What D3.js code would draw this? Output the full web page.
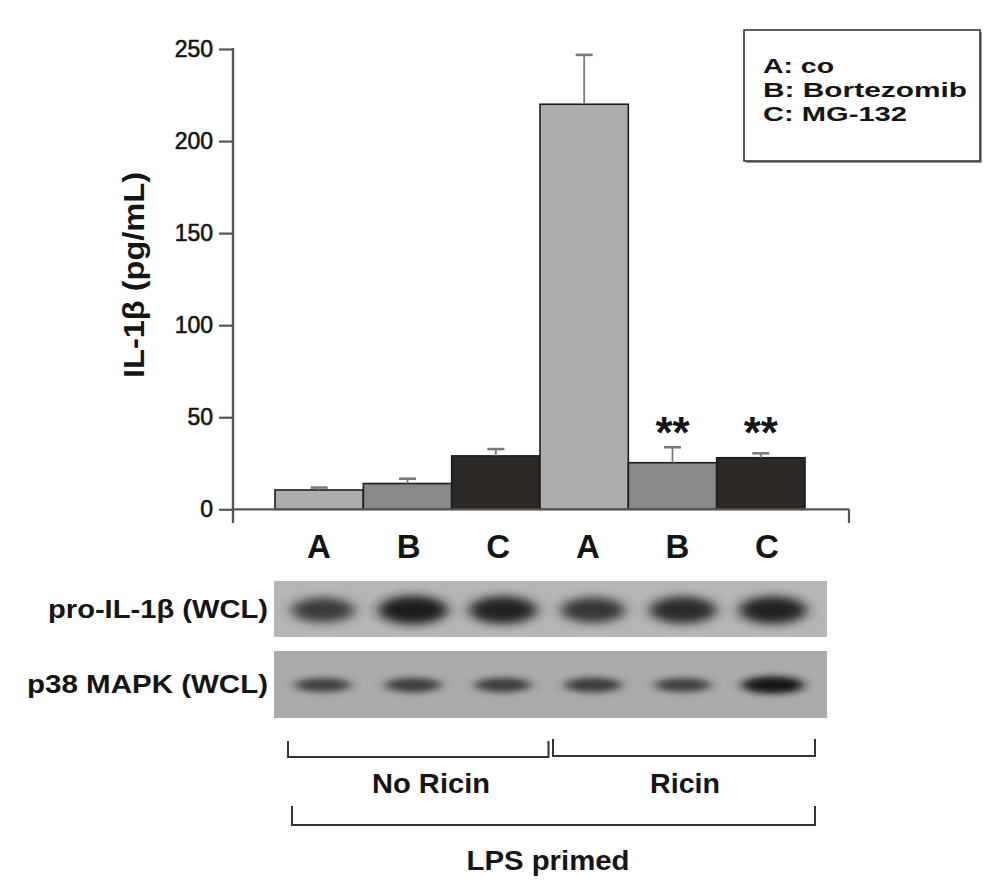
<!DOCTYPE html>
<html><head><meta charset="utf-8">
<script src="https://cdn.jsdelivr.net/npm/d3@7"></script>
<style>
body{margin:0;background:#fff}
svg{display:block}
text{font-family:"Liberation Sans",Arial,Helvetica,sans-serif;fill:#151515}
</style>
</head><body>
<svg id="chart" width="1000" height="888"></svg>
<script>
// ---------------- data ----------------
const categories   = ["A","B","C","A","B","C"];
const treatments   = ["co","Bortezomib","MG-132","co","Bortezomib","MG-132"];
const groupLabels  = ["No Ricin","Ricin"];
const meanValues   = [10.5, 14.0, 29.0, 220.0, 25.3, 28.0];
const errorValues  = [1.3, 2.6, 3.7, 26.8, 8.4, 2.4];
const significance = ["", "", "", "", "**", "**"];
const yTicks       = [0, 50, 100, 150, 200, 250];
const legendLabels = ["A: co", "B: Bortezomib", "C: MG-132"];
const blotLabels   = ["pro-IL-1\u03b2 (WCL)", "p38 MAPK (WCL)"];
const proIL1bBands = [0.74, 0.93, 0.88, 0.76, 0.84, 0.88];   // relative band intensity
const p38Bands     = [0.68, 0.7, 0.7, 0.72, 0.68, 0.95];

// ---------------- setup ----------------
const svg = d3.select("#chart");
const idx = d3.range(categories.length);
const fillByTreatment = d3.scaleOrdinal()
  .domain(["co","Bortezomib","MG-132"])
  .range(["#adadad","#898989","#2b2826"]);

const y = d3.scaleLinear().domain([0, 250]).range([509.3, 49]);
const x = d3.scaleBand().domain(idx).range([275, 805]).padding(0);
const xl = d3.scalePoint().domain(idx).range([319, 767]);
const lane = d3.scaleBand().domain(idx).range([278, 818]);

const axisX = 233;

// ---------------- y axis ----------------
const yAxis = d3.axisLeft(y).tickValues(yTicks).tickSize(14).tickPadding(6);
const gy = svg.append("g").attr("transform", `translate(${axisX},0)`).call(yAxis);
gy.select(".domain").remove();
gy.selectAll(".tick line").attr("stroke", "#555").attr("stroke-width", 2.2);
gy.selectAll(".tick text").attr("font-size", 23).attr("fill", "#151515")
  .attr("stroke", "#151515").attr("stroke-width", 0.6)
  .style("font-family", '"Liberation Sans",Arial,sans-serif');
svg.append("line").attr("x1", axisX).attr("x2", axisX)
  .attr("y1", y(250) - 1).attr("y2", 523)
  .attr("stroke", "#555").attr("stroke-width", 2.4);

// y label
svg.append("text")
  .attr("transform", `translate(144,${(172 + 378) / 2}) rotate(-90)`)
  .attr("text-anchor", "middle")
  .attr("font-size", 29).attr("font-weight", "bold")
  .attr("textLength", 206).attr("lengthAdjust", "spacingAndGlyphs")
  .text("IL-1\u03b2 (pg/mL)");

// ---------------- bars ----------------
svg.append("g").selectAll("rect").data(idx).join("rect")
  .attr("x", i => x(i)).attr("width", x.bandwidth())
  .attr("y", i => y(meanValues[i])).attr("height", i => y(0) - y(meanValues[i]))
  .attr("fill", i => fillByTreatment(treatments[i]))
  .attr("stroke", "#1c1c1c").attr("stroke-width", 1.6);

// error bars (upper only)
const eb = svg.append("g").attr("stroke", "#7a7a7a").attr("stroke-width", 1.8);
eb.selectAll("line.v").data(idx).join("line").attr("class", "v")
  .attr("x1", i => x(i) + x.bandwidth() / 2).attr("x2", i => x(i) + x.bandwidth() / 2)
  .attr("y1", i => y(meanValues[i])).attr("y2", i => y(meanValues[i] + errorValues[i]));
eb.selectAll("line.c").data(idx).join("line").attr("class", "c")
  .attr("x1", i => x(i) + x.bandwidth() / 2 - 8.5).attr("x2", i => x(i) + x.bandwidth() / 2 + 8.5)
  .attr("y1", i => y(meanValues[i] + errorValues[i])).attr("y2", i => y(meanValues[i] + errorValues[i]))
  .attr("stroke-width", 2.6);

// significance
svg.append("g").selectAll("text").data(idx.filter(i => significance[i])).join("text")
  .attr("x", i => x(i) + x.bandwidth() / 2).attr("y", 448)
  .attr("text-anchor", "middle").attr("font-size", 44).attr("font-weight", "bold")
  .text(i => significance[i]);

// x axis
svg.append("line").attr("x1", axisX).attr("x2", 849)
  .attr("y1", y(0)).attr("y2", y(0)).attr("stroke", "#555").attr("stroke-width", 2.2);
svg.append("line").attr("x1", 849).attr("x2", 849)
  .attr("y1", y(0)).attr("y2", 523).attr("stroke", "#555").attr("stroke-width", 2.2);

// category labels
svg.append("g").selectAll("text").data(idx).join("text")
  .attr("x", i => xl(i)).attr("y", 558)
  .attr("text-anchor", "middle").attr("font-size", 33).attr("font-weight", "bold")
  .text(i => categories[i]);

// ---------------- legend ----------------
svg.append("rect").attr("x", 746).attr("y", 32).attr("width", 236).attr("height", 131)
  .attr("fill", "#999");
svg.append("rect").attr("x", 744).attr("y", 30).attr("width", 236).attr("height", 131)
  .attr("fill", "#fff").attr("stroke", "#2a2a2a").attr("stroke-width", 1.5);
const legendWidths = [71, 204, 144];
svg.append("g").selectAll("text").data(legendLabels).join("text")
  .attr("x", 763).attr("y", (d, i) => 73 + i * 24)
  .attr("font-size", 21).attr("font-weight", "bold")
  .attr("textLength", (d, i) => legendWidths[i]).attr("lengthAdjust", "spacingAndGlyphs")
  .text(d => d);

// ---------------- western blots ----------------
const defs = svg.append("defs");
defs.append("filter").attr("id", "blur").attr("x", "-50%").attr("y", "-80%")
  .attr("width", "200%").attr("height", "260%")
  .append("feGaussianBlur").attr("stdDeviation", "7 5");
defs.append("filter").attr("id", "blurS").attr("x", "-50%").attr("y", "-80%")
  .attr("width", "200%").attr("height", "260%")
  .append("feGaussianBlur").attr("stdDeviation", "6 3");

const blots = [
  {label: blotLabels[0], bands: proIL1bBands, y0: 581, y1: 637, bg: "#b6b6b6", cy: 610, big: true, lw: 220},
  {label: blotLabels[1], bands: p38Bands,     y0: 651, y1: 718, bg: "#ababab", cy: 685, big: false, lw: 241}
];
const bandColor = (bg, v) => d3.interpolateRgb(bg, "#0e0e0e")(v);
blots.forEach(b => {
  svg.append("rect").attr("x", 274).attr("y", b.y0).attr("width", 553).attr("height", b.y1 - b.y0)
    .attr("fill", b.bg);
  const clipId = "clip" + b.y0;
  defs.append("clipPath").attr("id", clipId).append("rect")
    .attr("x", 274).attr("y", b.y0).attr("width", 553).attr("height", b.y1 - b.y0);
  svg.append("g").attr("clip-path", `url(#${clipId})`)
    .selectAll("ellipse").data(b.bands).join("ellipse")
    .attr("cx", (v, i) => lane(i) + lane.bandwidth() / 2)
    .attr("cy", b.cy)
    .attr("rx", v => b.big ? 20 + 16 * v : 20 + 12 * v)
    .attr("ry", v => b.big ? 5 + 10 * v : 3 + 6 * v)
    .attr("fill", v => bandColor(b.bg, v))
    .attr("filter", b.big ? "url(#blur)" : "url(#blurS)");
  svg.append("text").attr("x", 268).attr("y", b.cy + 8)
    .attr("text-anchor", "end").attr("font-size", 25).attr("font-weight", "bold")
    .attr("textLength", b.lw).attr("lengthAdjust", "spacingAndGlyphs")
    .text(b.label);
});

// ---------------- brackets ----------------
const br = svg.append("g").attr("fill", "none").attr("stroke", "#333").attr("stroke-width", 2);
const bracket = (x0, x1, yt, yb) =>
  br.append("path").attr("d", `M${x0},${yt}V${yb}H${x1}V${yt}`);
bracket(lane(0) + 10, lane(2) + lane.bandwidth() + 0.5, 741, 757);
bracket(lane(3) + 5, lane(5) + lane.bandwidth() - 3, 739, 756);
bracket(lane(0) + 14, lane(5) + lane.bandwidth() - 3, 806, 825);

const groupCenters = [431, 685];
const groupWidths = [118, 70];
svg.append("g").selectAll("text").data(groupLabels).join("text")
  .attr("x", (d, i) => groupCenters[i]).attr("y", 793)
  .attr("text-anchor", "middle").attr("font-size", 28).attr("font-weight", "bold")
  .attr("textLength", (d, i) => groupWidths[i]).attr("lengthAdjust", "spacingAndGlyphs")
  .text(d => d);
svg.append("text").attr("x", 548).attr("y", 870)
  .attr("text-anchor", "middle").attr("font-size", 27).attr("font-weight", "bold")
  .attr("textLength", 163).attr("lengthAdjust", "spacingAndGlyphs")
  .text("LPS primed");
</script>
</body></html>
